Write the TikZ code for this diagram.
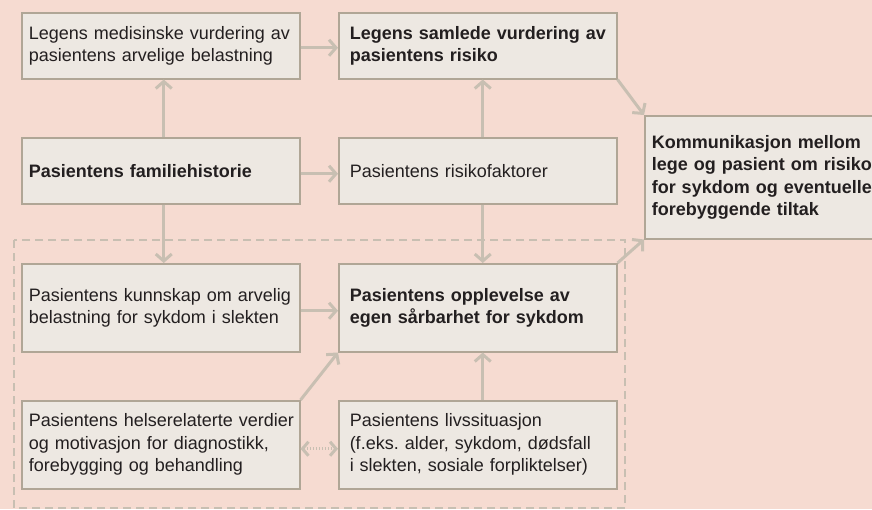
\documentclass[tikz,border=0pt]{standalone}
\usepackage{fontspec}
\setmainfont{Liberation Sans}
\usetikzlibrary{arrows.meta}
\definecolor{bgpink}{RGB}{246,219,209}
\definecolor{boxfill}{RGB}{237,232,226}
\definecolor{boxline}{RGB}{176,166,150}
\definecolor{arrowgray}{RGB}{200,191,178}
\definecolor{textdark}{RGB}{35,31,32}
\begin{document}
\begin{tikzpicture}[x=1pt,y=-1pt,
    box/.style={draw=boxline,fill=boxfill,line width=1.5pt,anchor=north west,align=left,
        inner xsep=7pt,inner ysep=0pt,text width=264pt,text=textdark,
        font=\fontsize{18}{22.5}\selectfont\frenchspacing,
        execute at begin node={\rightskip=0pt plus 1fil minus 40pt}},
    rbox/.style={box,execute at begin node={\leftskip=4pt}},
    keybox/.style={font=\fontsize{18}{22.5}\selectfont\bfseries},
    arr/.style={draw=arrowgray,line width=3pt,-{Straight Barb[length=7pt,width=16pt]}},
    dotarr/.style={draw=arrowgray,line width=3pt,dash pattern=on 1.5pt off 1.5pt,
        {Straight Barb[length=6pt,width=14pt]}-{Straight Barb[length=6pt,width=14pt]}}]
    \clip (0,0) rectangle (872,509);
    \fill[bgpink] (0,0) rectangle (872,509);
    % patient frame
    \draw[arrowgray,line width=2pt,dash pattern=on 8pt off 5pt] (14,240) rectangle (625,508);
    % doctor side
    \node[box,minimum height=66pt] (medvurd) at (21,12) {Legens medisinske vurdering av\\pasientens arvelige belastning};
    \node[rbox,keybox,minimum height=66pt] (samlet) at (338,12) {Legens samlede vurdering av\\pasientens risiko};
    \node[box,keybox,minimum height=66pt] (famhist) at (21,137) {Pasientens familiehistorie};
    \node[rbox,minimum height=66pt] (risiko) at (338,137) {Pasientens risikofaktorer};
    \node[box,keybox,minimum height=123pt,text width=262pt] (komm) at (644,115) {Kommunikasjon mellom\\lege og pasient om risiko\\for sykdom og eventuelle\\forebyggende tiltak};
    % patient side
    \node[box,minimum height=88pt] (kunnskap) at (21,263) {Pasientens kunnskap om arvelig\\belastning for sykdom i slekten};
    \node[rbox,keybox,minimum height=88pt] (opplev) at (338,263) {Pasientens opplevelse av\\egen sårbarhet for sykdom};
    \node[box,minimum height=88pt] (verdier) at (21,400) {Pasientens helserelaterte verdier\\og motivasjon for diagnostikk,\\forebygging og behandling};
    \node[rbox,minimum height=88pt] (livs) at (338,400) {Pasientens livssituasjon\\(f.eks. alder, sykdom, dødsfall\\i slekten, sosiale forpliktelser)};
    % arrows
    \draw[arr] ([yshift=-2pt]medvurd.east) -- ([yshift=-2pt]samlet.west);
    \draw[arr] ([xshift=3pt]famhist.north) -- ([xshift=3pt]medvurd.south);
    \draw[arr] ([yshift=-3pt]famhist.east) -- ([yshift=-3pt]risiko.west);
    \draw[arr] ([xshift=5pt]risiko.north) -- ([xshift=5pt]samlet.south);
    \draw[arr] ([xshift=3pt]famhist.south) -- ([xshift=3pt]kunnskap.north);
    \draw[arr] ([xshift=5pt]risiko.south) -- ([xshift=5pt]opplev.north);
    \draw[arr] ([yshift=-3pt]kunnskap.east) -- ([yshift=-3pt]opplev.west);
    \draw[arr] (verdier.north east) -- (opplev.south west);
    \draw[arr] ([xshift=5pt]livs.north) -- ([xshift=5pt]opplev.south);
    \draw[arr] (samlet.south east) -- (komm.north west);
    \draw[arr] (opplev.north east) -- (komm.south west);
    \draw[dotarr] ([yshift=-4pt]verdier.east) -- ([yshift=-4pt]livs.west);
\end{tikzpicture}
\end{document}
